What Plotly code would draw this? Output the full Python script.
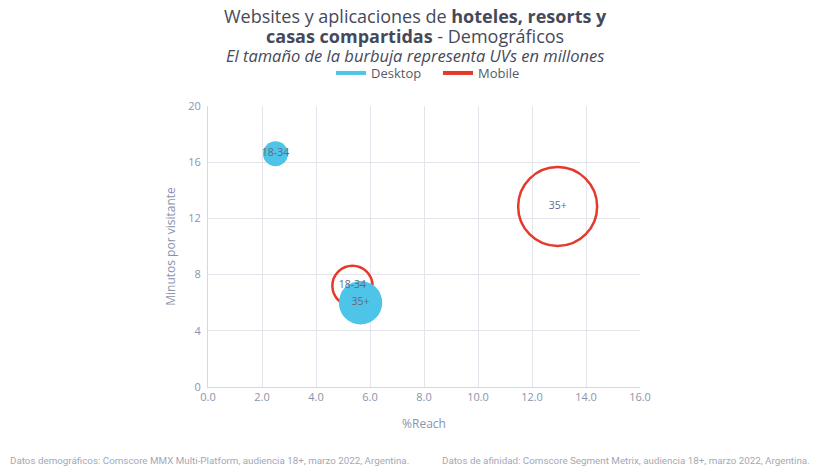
import plotly.graph_objects as go

# Data
series = ["Desktop", "Mobile"]
ages = ["18-34", "35+"]
desktop_reach = [2.5, 5.65]
desktop_minutes = [16.6, 6.0]
desktop_uv = [0.58, 1.75]
mobile_reach = [5.35, 12.95]
mobile_minutes = [7.2, 12.85]
mobile_uv = [1.5, 5.8]

x_ticks = [0, 2, 4, 6, 8, 10, 12, 14, 16]
y_ticks = [0, 4, 8, 12, 16, 20]

BLUE = "#4ec4e8"
RED = "#e5392c"
max_uv = max(desktop_uv + mobile_uv)
sizeref = 2.0 * max_uv / (79 ** 2)

W, H = 821, 475
L, R, T, B = 208, 181, 106, 88

fig = go.Figure()
fig.add_trace(go.Scatter(
    x=mobile_reach, y=mobile_minutes, mode="markers",
    marker=dict(size=mobile_uv, sizemode="area", sizeref=sizeref, opacity=1,
                color="rgba(0,0,0,0)", line=dict(color=RED, width=2.5)),
    showlegend=False, hoverinfo="skip"))
fig.add_trace(go.Scatter(
    x=desktop_reach, y=desktop_minutes, mode="markers",
    marker=dict(size=desktop_uv, sizemode="area", sizeref=sizeref,
                color=BLUE, opacity=1, line=dict(width=0)),
    showlegend=False, hoverinfo="skip"))
fig.add_trace(go.Scatter(
    x=desktop_reach + mobile_reach, y=desktop_minutes + mobile_minutes,
    mode="text", text=ages + ages,
    textfont=dict(size=10.5, color="#626a7c", family="Open Sans"),
    showlegend=False, hoverinfo="skip"))
for name, col in zip(series, [BLUE, RED]):
    fig.add_trace(go.Scatter(x=[None], y=[None], mode="lines", name=name,
                             line=dict(color=col, width=4)))

pw, ph = W - L - R, H - T - B


def px(x):
    return (x - L) / pw


def py(y):
    return (H - y - B) / ph


ann = []
title_specs = [
    ("Websites y aplicaciones de <b>hoteles, resorts y</b>", 16, 18),
    ("<b>casas compartidas</b> - Demográficos", 36, 18),
    ("<i>El tamaño de la burbuja representa UVs en millones</i>", 55, 16.5),
]
for txt, y, s in title_specs:
    ann.append(dict(text=txt, x=px(415), y=py(y), xref="paper", yref="paper",
                    showarrow=False, yanchor="middle",
                    font=dict(size=s, color="#46495a", family="Open Sans")))
ann.append(dict(text="Datos demográficos: Comscore MMX Multi-Platform, audiencia 18+, marzo 2022, Argentina.",
                x=px(8), y=py(460), xref="paper", yref="paper", showarrow=False,
                xanchor="left", yanchor="middle",
                font=dict(size=9.8, color="#a4a8b4", family="Roboto")))
ann.append(dict(text="Datos de afinidad: Comscore Segment Metrix, audiencia 18+, marzo 2022, Argentina.",
                x=px(812), y=py(460), xref="paper", yref="paper", showarrow=False,
                xanchor="right", yanchor="middle",
                font=dict(size=9.8, color="#a4a8b4", family="Roboto")))

fig.update_layout(
    width=W, height=H,
    margin=dict(l=L, r=R, t=T, b=B, autoexpand=False),
    plot_bgcolor="white", paper_bgcolor="white",
    font=dict(family="Open Sans", color="#8a93ab"),
    showlegend=True,
    legend=dict(orientation="h", x=px(331), xanchor="left", y=1 - 73 / H, yref="container",
                yanchor="middle", font=dict(size=13, color="#555a66"),
                entrywidth=62, entrywidthmode="pixels",
                traceorder="normal"),
    xaxis=dict(range=[0, 16], tickvals=x_ticks, tickformat=".1f",
               showgrid=True, gridcolor="#e3e4ec", gridwidth=1,
               zeroline=False, showline=True, linecolor="#d5d7e2",
               tickfont=dict(size=11, color="#8a93ab"),
               title=dict(text="%Reach", font=dict(size=12, color="#8a93ab"), standoff=16)),
    yaxis=dict(range=[0, 20], tickvals=y_ticks,
               showgrid=True, gridcolor="#e3e4ec", gridwidth=1,
               zeroline=False, showline=True, linecolor="#d5d7e2",
               tickfont=dict(size=11, color="#8a93ab"), ticks="outside", ticklen=4,
               tickcolor="white",
               title=dict(text="Minutos por visitante", font=dict(size=12, color="#8a93ab"), standoff=10)),
    annotations=ann,
)

fig.write_html("out.html", config={"displayModeBar": False},
               post_script="document.body.style.margin='0';")
